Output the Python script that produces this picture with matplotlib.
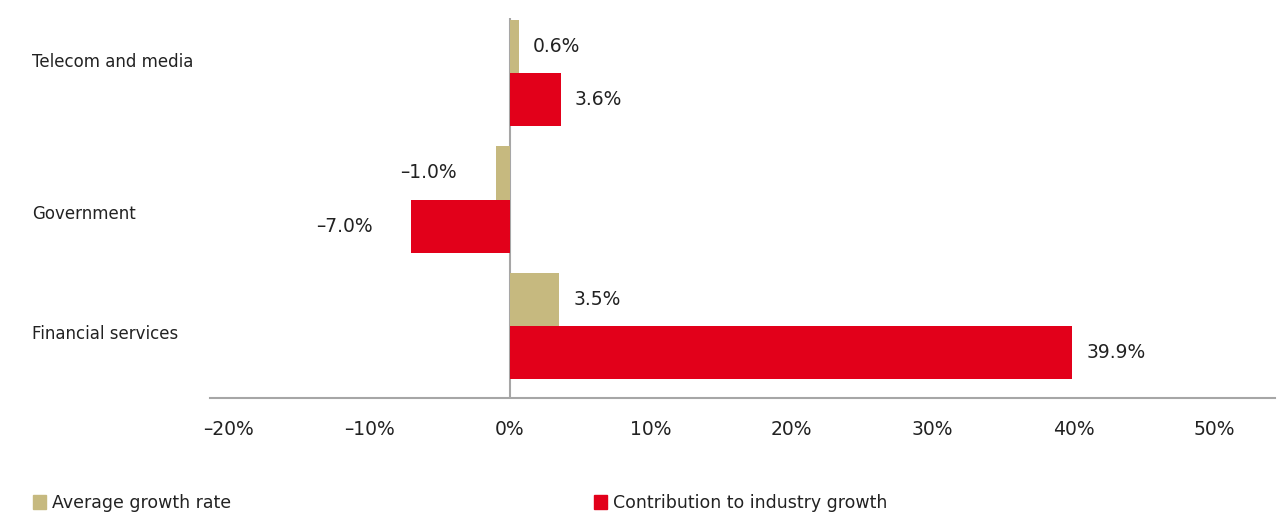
import matplotlib

matplotlib.use("Agg")
import matplotlib.pyplot as plt
import matplotlib.transforms as mtrans
import numpy as np
from matplotlib.patches import Patch

plt.rcParams["font.family"] = "DejaVu Sans"

# sectors listed bottom to top
sectors = ["Financial services", "Government", "Telecom and media"]
avg_growth = [3.5, -1.0, 0.6]
contribution = [39.9, -7.0, 3.6]
x_ticks = [-20, -10, 0, 10, 20, 30, 40, 50]

C_AVG = "#c6b97f"
C_CONTRIB = "#e2001a"
GREY = "#a6a6a6"
TXT = "#222222"


def pct(v):
    s = f"{abs(v):.1f}%"
    return ("\u2013" + s) if v < 0 else s


fig = plt.figure(figsize=(12.88, 5.15), dpi=100)
ax = fig.add_axes([0.163, 0.227, 0.827, 0.738])

y = np.arange(len(sectors))
h = 0.42
ax.axvline(0, color=GREY, linewidth=1.5, zorder=1)
b_avg = ax.barh(y + h / 2, avg_growth, height=h, color=C_AVG, zorder=2)
b_con = ax.barh(y - h / 2, contribution, height=h, color=C_CONTRIB, zorder=2)

for bars, vals in ((b_avg, avg_growth), (b_con, contribution)):
    for bar, v in zip(bars, vals):
        yc = bar.get_y() + bar.get_height() / 2
        if v >= 0:
            ax.annotate(pct(v), (v, yc), xytext=(10, 0), textcoords="offset points",
                        ha="left", va="center", fontsize=13.5, color=TXT)
        else:
            ax.annotate(pct(v), (v, yc), xytext=(-28, 0), textcoords="offset points",
                        ha="right", va="center", fontsize=13.5, color=TXT)

ax.set_xlim(-21.3, 54.3)
ax.set_ylim(-0.57, 2.435)
ax.set_xticks(x_ticks)
ax.set_xticklabels([pct(t).replace(".0", "") for t in x_ticks], fontsize=13.5, color=TXT)
ax.set_yticks(y)
ax.set_yticklabels(sectors, fontsize=12, color=TXT, ha="left")
ax.tick_params(axis="x", length=0, pad=16)
ax.tick_params(axis="y", length=0, pad=128)

# category names sit a little off the group centres
for lab, dy in zip(ax.get_yticklabels(), [-6, -12, 13]):
    lab.set_transform(lab.get_transform()
                      + mtrans.ScaledTranslation(0, dy / 100, fig.dpi_scale_trans))

for side in ("top", "right", "left"):
    ax.spines[side].set_visible(False)
ax.spines["bottom"].set_color(GREY)
ax.spines["bottom"].set_linewidth(1.5)

handles = [Patch(color=C_AVG, label="Average growth rate"),
           Patch(color=C_CONTRIB, label="Contribution to industry growth")]
fig.legend(handles=handles, loc="center left", bbox_to_anchor=(0.0185, 0.023),
           ncol=2, frameon=False, fontsize=12.5, handlelength=0.8, handleheight=0.8,
           handletextpad=0.3, columnspacing=20.9, borderpad=0, labelcolor=TXT)

fig.savefig("out.png", dpi=100)
plt.close(fig)
